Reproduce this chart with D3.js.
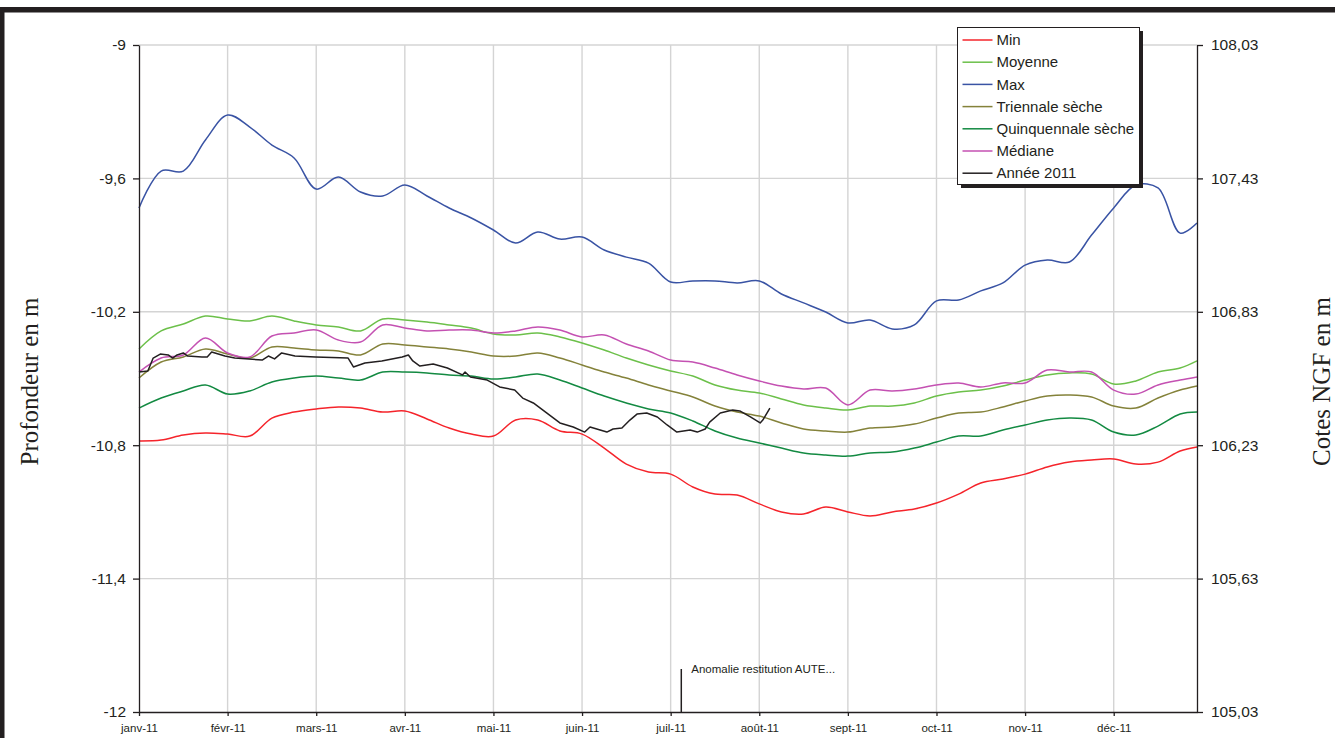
<!DOCTYPE html>
<html>
<head>
<meta charset="utf-8">
<script src="https://cdn.jsdelivr.net/npm/d3@7"></script>
<style>
  body { margin: 0; background: #fff; }
  svg { display: block; font-family: 'Liberation Sans', Arial, sans-serif; }
</style>
</head>
<body>
<svg id="chart" width="1335" height="738"></svg>
<script>
const months = ['janv-11', 'févr-11', 'mars-11', 'avr-11', 'mai-11', 'juin-11',
  'juil-11', 'août-11', 'sept-11', 'oct-11', 'nov-11', 'déc-11'];

// one reading every quarter of a month, last one on 31 Dec
const positions = d3.range(0, 12, 0.25).concat([11.94]);

const depthTicks = [-9, -9.6, -10.2, -10.8, -11.4, -12];
const ngfTicks = [108.03, 107.43, 106.83, 106.23, 105.63, 105.03];

const min = [-10.781, -10.777, -10.754, -10.745, -10.750, -10.759, -10.678, -10.651, -10.637, -10.628, -10.633, -10.651, -10.646,
  -10.682, -10.723, -10.750, -10.759, -10.687, -10.687, -10.736, -10.750, -10.813, -10.885, -10.921, -10.930, -10.988,
  -11.020, -11.024, -11.064, -11.100, -11.109, -11.078, -11.100, -11.118, -11.100, -11.087, -11.060, -11.020, -10.970,
  -10.952, -10.930, -10.898, -10.876, -10.867, -10.862, -10.885, -10.876, -10.826, -10.808];

const moyenne = [-10.367, -10.286, -10.255, -10.219, -10.232, -10.241, -10.219, -10.241, -10.259, -10.268, -10.286, -10.232, -10.237,
  -10.246, -10.259, -10.273, -10.300, -10.304, -10.295, -10.313, -10.340, -10.372, -10.408, -10.439, -10.466, -10.489,
  -10.529, -10.552, -10.565, -10.592, -10.619, -10.633, -10.642, -10.624, -10.624, -10.610, -10.579, -10.561, -10.552,
  -10.534, -10.507, -10.484, -10.475, -10.480, -10.525, -10.511, -10.471, -10.453, -10.421];

const max = [-9.733, -9.567, -9.567, -9.427, -9.315, -9.369, -9.450, -9.508, -9.648, -9.594, -9.661, -9.679, -9.630,
  -9.679, -9.733, -9.778, -9.832, -9.891, -9.841, -9.873, -9.864, -9.922, -9.954, -9.981, -10.066, -10.061,
  -10.061, -10.070, -10.061, -10.120, -10.160, -10.201, -10.250, -10.237, -10.277, -10.259, -10.151, -10.147, -10.106,
  -10.070, -9.990, -9.967, -9.976, -9.855, -9.733, -9.630, -9.643, -9.846, -9.801];

const triennale = [-10.498, -10.426, -10.403, -10.367, -10.390, -10.408, -10.358, -10.363, -10.372, -10.376, -10.394, -10.345, -10.349,
  -10.358, -10.367, -10.381, -10.399, -10.399, -10.385, -10.408, -10.439, -10.471, -10.498, -10.529, -10.556, -10.583,
  -10.624, -10.651, -10.669, -10.700, -10.727, -10.736, -10.741, -10.723, -10.718, -10.705, -10.678, -10.655, -10.651,
  -10.628, -10.601, -10.579, -10.574, -10.583, -10.624, -10.633, -10.588, -10.552, -10.534];

const quinquennale = [-10.633, -10.588, -10.556, -10.529, -10.570, -10.556, -10.516, -10.498, -10.489, -10.498, -10.507, -10.471, -10.471,
  -10.475, -10.484, -10.489, -10.502, -10.493, -10.480, -10.507, -10.543, -10.579, -10.610, -10.637, -10.655, -10.691,
  -10.736, -10.768, -10.790, -10.813, -10.835, -10.844, -10.849, -10.835, -10.831, -10.813, -10.786, -10.759, -10.759,
  -10.732, -10.709, -10.687, -10.678, -10.687, -10.741, -10.754, -10.714, -10.660, -10.651];

const mediane = [-10.471, -10.408, -10.394, -10.318, -10.385, -10.403, -10.309, -10.295, -10.282, -10.327, -10.336, -10.259, -10.273,
  -10.286, -10.282, -10.282, -10.295, -10.286, -10.268, -10.282, -10.313, -10.304, -10.345, -10.376, -10.417, -10.426,
  -10.453, -10.484, -10.511, -10.534, -10.547, -10.543, -10.619, -10.552, -10.556, -10.547, -10.529, -10.520, -10.538,
  -10.520, -10.520, -10.462, -10.471, -10.471, -10.552, -10.570, -10.529, -10.507, -10.493];

// Année 2011: its own (irregular) readings, month index / depth
const annee2011Mois = [0, 0.10, 0.16, 0.24, 0.33, 0.38, 0.43, 0.50, 0.55, 0.71, 0.77, 0.82, 0.97, 1.08, 1.39, 1.46,
  1.53, 1.61, 1.76, 1.99, 2.36, 2.42, 2.55, 2.74, 2.97, 3.04, 3.09, 3.17, 3.32, 3.48, 3.65, 3.68, 3.74, 3.93, 4.07,
  4.24, 4.33, 4.45, 4.60, 4.75, 4.90, 5.03, 5.09, 5.28, 5.35, 5.45, 5.54, 5.62, 5.73, 5.85, 5.96, 6.07, 6.22, 6.30,
  6.39, 6.44, 6.56, 6.70, 6.78, 6.90, 7.01, 7.04, 7.12];
const annee2011 = [-10.471, -10.466, -10.408, -10.390, -10.394, -10.408, -10.394, -10.385, -10.399, -10.403,
  -10.403, -10.381, -10.399, -10.408, -10.417, -10.399, -10.412, -10.385, -10.399, -10.403,
  -10.408, -10.448, -10.430, -10.421, -10.403, -10.394, -10.421, -10.444, -10.435, -10.453,
  -10.484, -10.471, -10.493, -10.507, -10.538, -10.552, -10.588, -10.610, -10.655, -10.700,
  -10.718, -10.741, -10.718, -10.741, -10.727, -10.723, -10.687, -10.660, -10.655, -10.673,
  -10.709, -10.741, -10.732, -10.741, -10.727, -10.696, -10.655, -10.642, -10.646, -10.673,
  -10.700, -10.687, -10.633];

const anomalie = { mois: 6.12, label: 'Anomalie restitution AUTE...' };

const series = [
  { name: 'Min', values: min, color: '#f5242b' },
  { name: 'Moyenne', values: moyenne, color: '#6cc04a' },
  { name: 'Max', values: max, color: '#3953a4' },
  { name: 'Triennale sèche', values: triennale, color: '#84823a' },
  { name: 'Quinquennale sèche', values: quinquennale, color: '#138a42' },
  { name: 'Médiane', values: mediane, color: '#c451b2' }
];
const anneeColor = '#231f20';

const svg = d3.select('#chart');
const plot = { left: 139, right: 1197, top: 45, bottom: 712 };

// page frame
svg.append('rect').attr('x', 0).attr('y', 7).attr('width', 1335).attr('height', 5.5).attr('fill', '#231f20');
svg.append('rect').attr('x', 0).attr('y', 7).attr('width', 4.5).attr('height', 731).attr('fill', '#231f20');

const x = d3.scaleLinear().domain([0, 11.94]).range([plot.left, plot.right]);
const y = d3.scaleLinear().domain([-12, -9]).range([plot.bottom, plot.top]);
const yNgf = d3.scaleLinear().domain([105.03, 108.03]).range([plot.bottom, plot.top]);

// french decimal comma, plain hyphen as minus
const frLocale = d3.formatLocale({ decimal: ',', thousands: ' ', grouping: [3], currency: ['', ' €'], minus: '-' });

// grid
const grid = svg.append('g').attr('class', 'grid')
  .attr('stroke', '#d4d4d4').attr('stroke-width', 1.4);
grid.selectAll('line.h')
  .data(depthTicks.slice(0, 5))
  .enter()
  .append('line')
  .attr('x1', plot.left).attr('x2', plot.right)
  .attr('y1', d => y(d)).attr('y2', d => y(d));
grid.selectAll('line.v')
  .data(d3.range(1, 12))
  .enter()
  .append('line')
  .attr('x1', d => x(d)).attr('x2', d => x(d))
  .attr('y1', plot.top).attr('y2', plot.bottom);

// series
const line = d3.line()
  .x((d, i) => x(positions[i]))
  .y(d => y(d))
  .curve(d3.curveCatmullRom.alpha(0.5));

svg.append('g').attr('class', 'series')
  .selectAll('path')
  .data(series)
  .enter()
  .append('path')
  .attr('d', d => line(d.values))
  .attr('fill', 'none')
  .attr('stroke', d => d.color)
  .attr('stroke-width', 1.5);

const anneeLine = d3.line()
  .x((d, i) => x(annee2011Mois[i]))
  .y(d => y(d));

svg.append('path')
  .attr('d', anneeLine(annee2011))
  .attr('fill', 'none')
  .attr('stroke', anneeColor)
  .attr('stroke-width', 1.5)
  .attr('stroke-linejoin', 'round');

// annotation
svg.append('line')
  .attr('x1', x(anomalie.mois)).attr('x2', x(anomalie.mois))
  .attr('y1', plot.bottom - 43).attr('y2', plot.bottom)
  .attr('stroke', '#231f20').attr('stroke-width', 1.5);
svg.append('text')
  .attr('x', x(anomalie.mois) + 10).attr('y', plot.bottom - 39)
  .attr('font-size', '11.5px').attr('fill', '#231f20')
  .text(anomalie.label);

// axes
const xAxis = d3.axisBottom(x)
  .tickValues(d3.range(0, 12))
  .tickSize(4)
  .tickSizeOuter(0)
  .tickPadding(8)
  .tickFormat(d => months[d]);

const yAxis = d3.axisLeft(y)
  .tickValues(depthTicks)
  .tickSize(6)
  .tickSizeOuter(0)
  .tickPadding(7)
  .tickFormat(frLocale.format('.2~f'));

const yNgfAxis = d3.axisRight(yNgf)
  .tickValues(ngfTicks)
  .tickSize(6)
  .tickSizeOuter(0)
  .tickPadding(8)
  .tickFormat(frLocale.format('.2f'));

svg.append('g')
  .attr('class', 'xaxis')
  .attr('transform', `translate(0,${plot.bottom})`)
  .call(xAxis)
  .call(g => g.selectAll('text').attr('font-size', '11.5px'));

svg.append('g')
  .attr('class', 'yaxis')
  .attr('transform', `translate(${plot.left},0)`)
  .call(yAxis)
  .call(g => g.selectAll('text').attr('font-size', '15.5px'));

svg.append('g')
  .attr('class', 'yaxis-ngf')
  .attr('transform', `translate(${plot.right},0)`)
  .call(yNgfAxis)
  .call(g => g.selectAll('text').attr('font-size', '15.5px'));

svg.selectAll('.xaxis, .yaxis, .yaxis-ngf')
  .attr('font-family', null)
  .call(g => g.selectAll('path, line').attr('stroke', '#231f20').attr('stroke-width', 1.3))
  .call(g => g.selectAll('text').attr('fill', '#231f20'));

// axis titles
svg.append('text')
  .attr('transform', `translate(38,${(plot.top + plot.bottom) / 2 + 3}) rotate(-90)`)
  .attr('text-anchor', 'middle')
  .attr('font-family', "'Liberation Serif', 'Times New Roman', serif")
  .attr('font-size', '25px')
  .attr('fill', '#231f20')
  .text('Profondeur en m');

svg.append('text')
  .attr('transform', `translate(1330,${(plot.top + plot.bottom) / 2 + 3}) rotate(-90)`)
  .attr('text-anchor', 'middle')
  .attr('font-family', "'Liberation Serif', 'Times New Roman', serif")
  .attr('font-size', '25px')
  .attr('fill', '#231f20')
  .text('Cotes NGF en m');

// legend
const legendItems = series.map(s => ({ name: s.name, color: s.color }))
  .concat([{ name: 'Année 2011', color: anneeColor }]);
const legend = svg.append('g').attr('class', 'legend').attr('transform', 'translate(957.5,27.5)');
legend.append('rect')
  .attr('x', 3.5).attr('y', 3.5).attr('width', 182).attr('height', 157)
  .attr('fill', '#231f20');
legend.append('rect')
  .attr('width', 182).attr('height', 157)
  .attr('fill', '#fff').attr('stroke', '#231f20').attr('stroke-width', 1);
const rows = legend.selectAll('g.row')
  .data(legendItems)
  .enter()
  .append('g')
  .attr('transform', (d, i) => `translate(0,${12.5 + i * 22.2})`);
rows.append('line')
  .attr('x1', 5).attr('x2', 35)
  .attr('stroke', d => d.color).attr('stroke-width', 1.5);
rows.append('text')
  .attr('x', 39).attr('dy', '0.35em')
  .attr('font-size', '15px').attr('fill', '#231f20')
  .text(d => d.name);
</script>
</body>
</html>
